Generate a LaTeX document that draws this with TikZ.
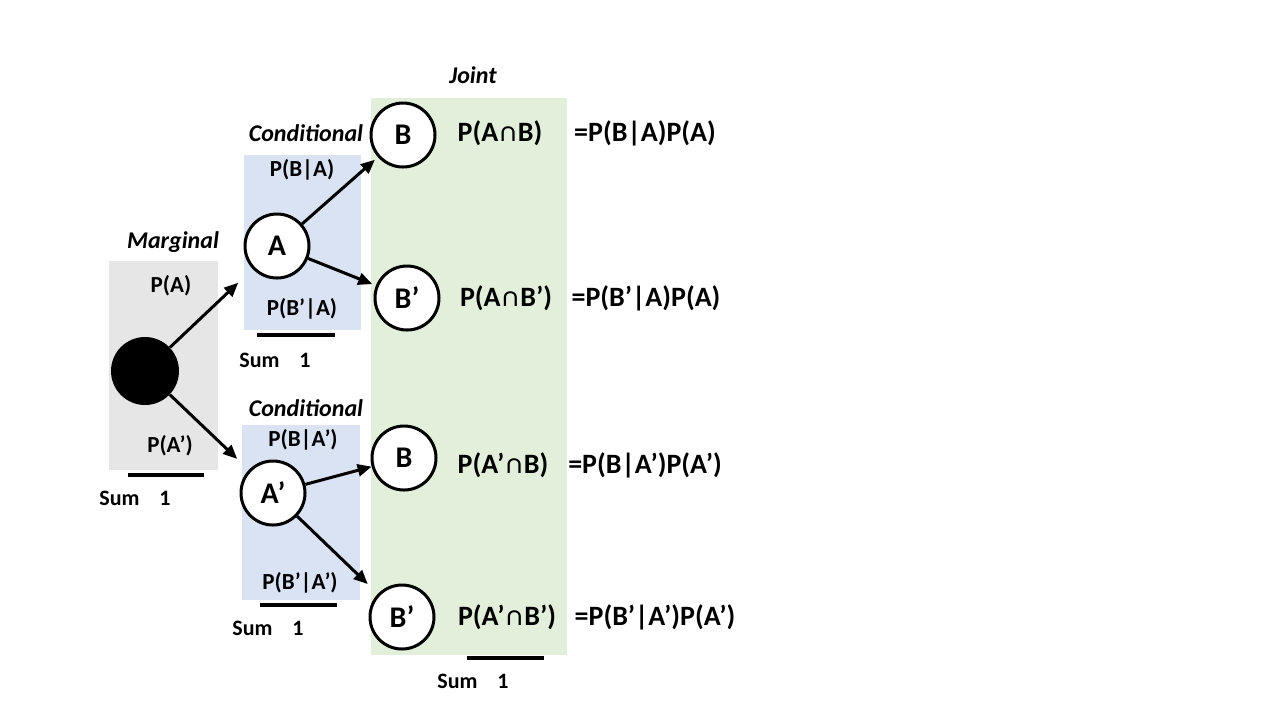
\documentclass[tikz,border=0pt]{standalone}
\usepackage{fontspec}
\setmainfont{Carlito}
\usetikzlibrary{arrows.meta}
\definecolor{margfill}{HTML}{E7E6E6}
\definecolor{condfill}{HTML}{DAE3F3}
\definecolor{jointfill}{HTML}{E2EFDA}
\tikzset{
  evt/.style={circle, draw, line width=1.5pt, fill=white, minimum size=32pt,
    inner sep=0pt, font=\bfseries\fontsize{15}{17}\selectfont},
  lbl/.style={font=\bfseries\fontsize{11.5}{13}\selectfont},
  biglbl/.style={font=\bfseries\fontsize{14}{16}\selectfont},
  ttl/.style={font=\bfseries\itshape\fontsize{12}{14}\selectfont},
  sumtxt/.style={font=\bfseries\fontsize{11}{13}\selectfont},
  sumline/.style={line width=2pt},
  arr/.style={-{Triangle[length=7pt,width=6pt]}, line width=1.5pt},
}
\begin{document}
\begin{tikzpicture}[x=0.5pt,y=-0.5pt]
  \useasboundingbox[fill=white] (0,0) rectangle (1280,720);

  % Panels
  \fill[margfill] (109,261) rectangle (218,470);
  \fill[condfill] (244,155) rectangle (361,330);
  \fill[condfill] (242,425) rectangle (360,600);
  \fill[jointfill] (371,98) rectangle (567,655);

  % Titles
  \node[ttl] (tmarg) at (173,242) {Marginal};
  \node[ttl] (tcond1) at (306,133) {Conditional};
  \node[ttl] (tcond2) at (306,408) {Conditional};
  \node[ttl] (tjoint) at (473,75) {Joint};

  % Events
  \node[circle, fill=black, minimum width=32pt, minimum height=34pt, inner sep=0pt] (root) at (145,371) {};
  \node[evt] (a) at (277,246) {A};
  \node[evt] (an) at (273,493) {A’};
  \node[evt] (ab) at (403,135) {B};
  \node[evt] (abn) at (407,298) {B’};
  \node[evt] (anb) at (404,458) {B};
  \node[evt] (anbn) at (402,617) {B’};

  % Branches
  \draw[arr, shorten >=10pt] (root) -- (a);
  \draw[arr, shorten >=8pt] (root) -- (an);
  \draw[arr, shorten >=2pt] (a) -- (ab);
  \draw[arr, shorten >=2pt] (a) -- (abn);
  \draw[arr] (an) -- (anb);
  \draw[arr, shorten >=7pt] (an) -- (anbn);

  % Probabilities on the branches
  \node[lbl] (pa) at (171,286) {P(A)};
  \node[lbl] (pan) at (170,446) {P(A’)};
  \node[lbl] (pba) at (302,170) {P(B|A)};
  \node[lbl] (pbna) at (302,309) {P(B’|A)};
  \node[lbl] (pban) at (303,440) {P(B|A’)};
  \node[lbl] (pbnan) at (300,583) {P(B’|A’)};

  % Joint probabilities
  \node[biglbl] (jab) at (500,133) {P(A∩B)};
  \node[biglbl] (jabn) at (506,298) {P(A∩B’)};
  \node[biglbl] (janb) at (503,465) {P(A’∩B)};
  \node[biglbl] (janbn) at (507,617) {P(A’∩B’)};
  \node[biglbl] (fab) at (645,133) {=P(B|A)P(A)};
  \node[biglbl] (fabn) at (646,298) {=P(B’|A)P(A)};
  \node[biglbl] (fanb) at (645,465) {=P(B|A’)P(A’)};
  \node[biglbl] (fanbn) at (655,617) {=P(B’|A’)P(A’)};

  % Sums
  \draw[sumline] (128,475) -- (204,475);
  \node[sumtxt] (s1) at (135,498) {Sum\hspace{0.9em}1};
  \draw[sumline] (257,335) -- (335,335);
  \node[sumtxt] (s2) at (275,360) {Sum\hspace{0.9em}1};
  \draw[sumline] (260,605) -- (337,605);
  \node[sumtxt] (s3) at (268,628) {Sum\hspace{0.9em}1};
  \draw[sumline] (467,658) -- (544,658);
  \node[sumtxt] (s4) at (473,681) {Sum\hspace{0.9em}1};
\end{tikzpicture}
\end{document}
